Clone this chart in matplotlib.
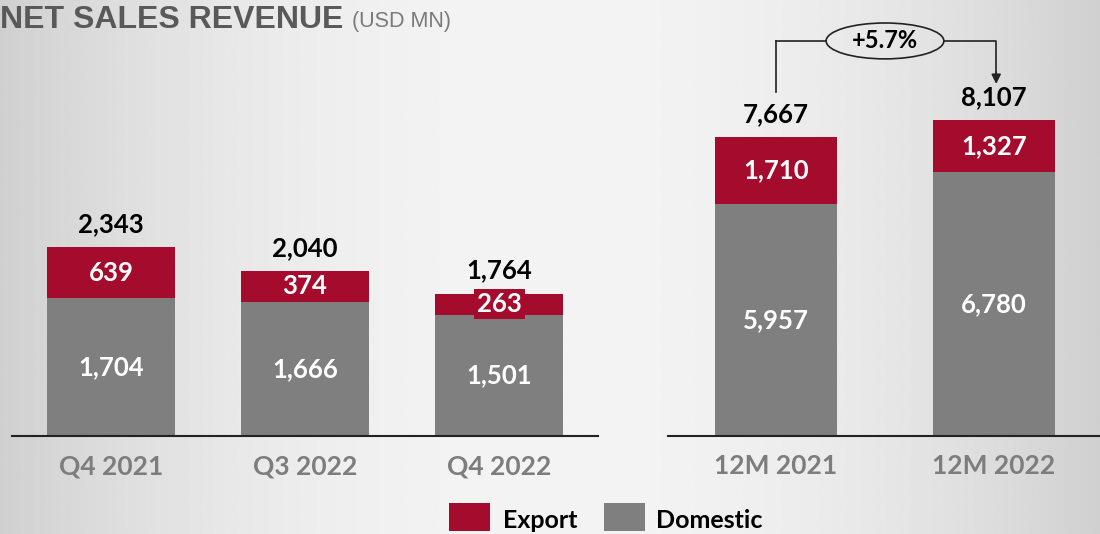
import numpy as np
import matplotlib.pyplot as plt
from matplotlib.patches import Ellipse, Rectangle

# data
q_labels = ['Q4 2021', 'Q3 2022', 'Q4 2022']
q_domestic = [1704, 1666, 1501]
q_export = [639, 374, 263]
q_total = [2343, 2040, 1764]

y_labels = ['12M 2021', '12M 2022']
y_domestic = [5957, 6780]
y_export = [1710, 1327]
y_total = [7667, 8107]
growth = '+5.7%'

RED = '#a50b2d'
GRAY = '#7f7f7f'
LBL = '#7d7d7d'
NUMFONT = 'Lato'
NS = 18.5

fig = plt.figure(figsize=(11, 5.34), dpi=100)

# brushed-metal like background
bg = fig.add_axes([0, 0, 1, 1], zorder=-10)
xs = np.linspace(-1, 1, 600)
prof = 0.955 - 0.14 * xs ** 2
img = np.tile(prof, (60, 1))
bg.imshow(img, cmap='gray', vmin=0, vmax=1, aspect='auto', extent=[0, 1, 0, 1])
bg.axis('off')

fig.text(0.0, 1 - 20 / 534, 'NET SALES REVENUE', fontsize=23, fontweight='bold',
         color='#595959', family='Liberation Sans', va='center')
fig.text(352 / 1100, 1 - 22 / 534, '(USD MN)', fontsize=15.5, color='#7a7a7a',
         family='Liberation Sans', va='center')


def draw_panel(ax, labels, dom, exp, tot, width, small_lim):
    x = np.arange(len(labels))
    ax.bar(x, dom, width, color=GRAY, zorder=2)
    ax.bar(x, exp, width, bottom=dom, color=RED, zorder=2)
    for i in x:
        ax.text(i, dom[i] / 2, f'{dom[i]:,}', ha='center', va='center',
                color='white', fontsize=NS, fontweight='bold', family=NUMFONT)
        box = None
        if exp[i] < small_lim:
            box = dict(boxstyle='square,pad=0.12', fc=RED, ec='none')
        ax.text(i, dom[i] + exp[i] / 2, f'{exp[i]:,}', ha='center', va='center',
                color='white', fontsize=NS, fontweight='bold', family=NUMFONT,
                bbox=box, zorder=3)
        ax.annotate(f'{tot[i]:,}', (i, tot[i]), xytext=(0, 8),
                    textcoords='offset points', ha='center', va='bottom',
                    fontsize=NS, fontweight='bold', family=NUMFONT, color='black')
    ax.set_xticks(x)
    ax.set_xticklabels(labels)
    ax.tick_params(axis='x', length=0, pad=13, labelsize=19, labelcolor=LBL)
    for t in ax.get_xticklabels():
        t.set_fontweight('bold')
        t.set_family(NUMFONT)
    ax.set_yticks([])
    for s in ['top', 'left', 'right']:
        ax.spines[s].set_visible(False)
    ax.spines['bottom'].set_color('#222222')
    ax.spines['bottom'].set_linewidth(1.5)
    ax.patch.set_alpha(0)


ax1 = fig.add_axes([12 / 1100, 98 / 534, 586 / 1100, 396 / 534])
draw_panel(ax1, q_labels, q_domestic, q_export, q_total, 0.655, 300)
ax1.set_xlim(-0.51, 2.51)
ax1.set_ylim(0, 4907)

ax2 = fig.add_axes([668 / 1100, 98 / 534, 432 / 1100, 396 / 534])
draw_panel(ax2, y_labels, y_domestic, y_export, y_total, 0.56, 0)
ax2.set_xlim(-0.495, 1.486)
ax2.set_ylim(0, 10154)

# growth bracket
top_y = 10130
ax2.plot([0, 0], [y_total[0] + 1150, top_y], color='#222222', lw=1.2, clip_on=False)
ax2.plot([0, 0.23], [top_y, top_y], color='#222222', lw=1.2, clip_on=False)
ax2.plot([0.77, 1.01, 1.01], [top_y, top_y, y_total[1] + 1000], color='#222222',
         lw=1.2, clip_on=False)
ax2.annotate('', xy=(1.01, y_total[1] + 850), xytext=(1.01, y_total[1] + 1300),
             arrowprops=dict(arrowstyle='-|>', color='#222222', lw=1.2,
                             mutation_scale=14), annotation_clip=False)
ax2.add_patch(Ellipse((0.5, top_y), 0.54, 920, fc='none', ec='#222222', lw=1.2,
                      clip_on=False))
ax2.text(0.5, top_y, growth, ha='center', va='center', fontsize=17,
         fontweight='bold', family=NUMFONT)

# legend
fig.patches.append(Rectangle((449 / 1100, 3 / 534), 41 / 1100, 28 / 534,
                             transform=fig.transFigure, fc=RED, ec='none'))
fig.text(503 / 1100, 14 / 534, 'Export', fontsize=18, fontweight='bold',
         family=NUMFONT, va='center')
fig.patches.append(Rectangle((604 / 1100, 3 / 534), 41 / 1100, 28 / 534,
                             transform=fig.transFigure, fc=GRAY, ec='none'))
fig.text(656 / 1100, 14 / 534, 'Domestic', fontsize=18, fontweight='bold',
         family=NUMFONT, va='center')

fig.savefig('out.png', dpi=100)
